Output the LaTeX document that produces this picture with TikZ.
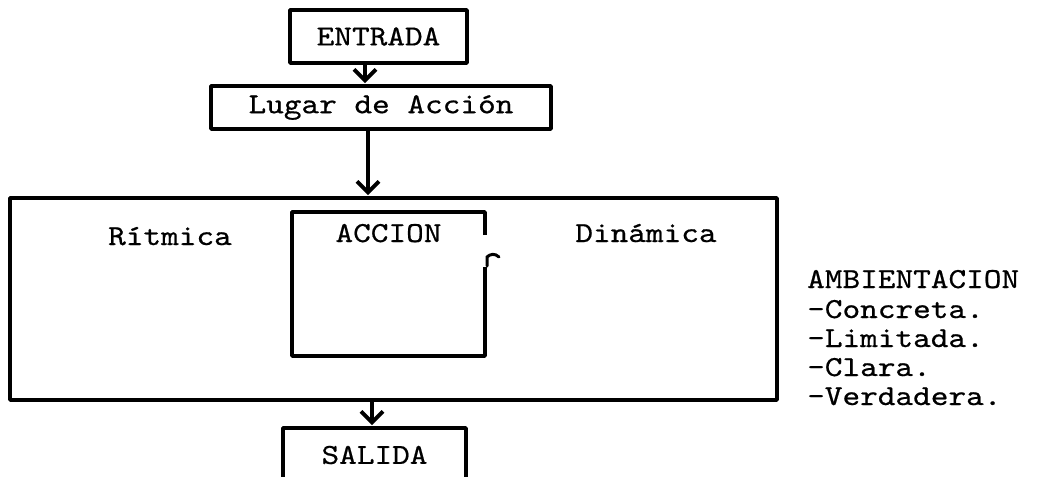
\documentclass[tikz,border=0pt]{standalone}
\usepackage{fontspec}
\setmonofont{lmmono10-regular.otf}[FakeStretch=1.16,FakeBold=0.6]
\usepackage{tikz}
\usetikzlibrary{arrows.meta,positioning}

\tikzset{
	caja/.style={draw, line width=3.8pt, line join=round},
	flecha/.style={line width=3.4pt, -{Straight Barb[length=11pt,width=22pt,line width=3.8pt]}, shorten >=1pt},
	every node/.style={font=\ttfamily\fontsize{29}{29}\selectfont, inner sep=0pt}
}

\begin{document}
\begin{tikzpicture}[x=1pt,y=-1pt]
	\clip (0,0) rectangle (1064,476);
	\useasboundingbox (0,0) rectangle (1064,476);
	\path (378.5,36.5) node (entrada) [caja, minimum width=177pt, minimum height=53pt] {ENTRADA}
		  (381,107.5) node (lugar) [caja, minimum width=340pt, minimum height=43pt] {Lugar de Acción}
		  (393.5,299) node (marco) [caja, minimum width=767pt, minimum height=202pt] {}
		  (374.5,455) node (salida) [caja, minimum width=183pt, minimum height=54pt] {SALIDA};
	\coordinate (col1) at (365,0);
	\coordinate (col2) at (368,0);
	\coordinate (col3) at (372,0);
	\draw[flecha] (entrada.south -| col1) -- (lugar.north -| col1);
	\draw[flecha] (lugar.south -| col2) -- (marco.north -| col2);
	\draw[flecha] (marco.south -| col3) -- (salida.north -| col3);
	% caja de la accion, abierta a la derecha
	\draw[line width=3.6pt, line join=round] (485,235) -- (485,212) -- (292,212) -- (292,356) -- (485,356) -- (485,267);
	\draw[line width=3pt, line cap=round] (487,266) -- (487,257) .. controls (490,254) and (495,253) .. (499,257);
	\path (170,245) node (ritmica) [anchor=base] {Rítmica}
		  (388.5,242) node (accion) [anchor=base] {ACCION}
		  (646,242) node (dinamica) [anchor=base] {Dinámica};
	\path (807,288) node (ambient) [anchor=base west] {AMBIENTACION}
		  (807,318) node (concreta) [anchor=base west] {-Concreta.}
		  (807,347) node (limitada) [anchor=base west] {-Limitada.}
		  (807,376) node (clara) [anchor=base west] {-Clara.}
		  (807,405) node (verdadera) [anchor=base west] {-Verdadera.};
\end{tikzpicture}
\end{document}
